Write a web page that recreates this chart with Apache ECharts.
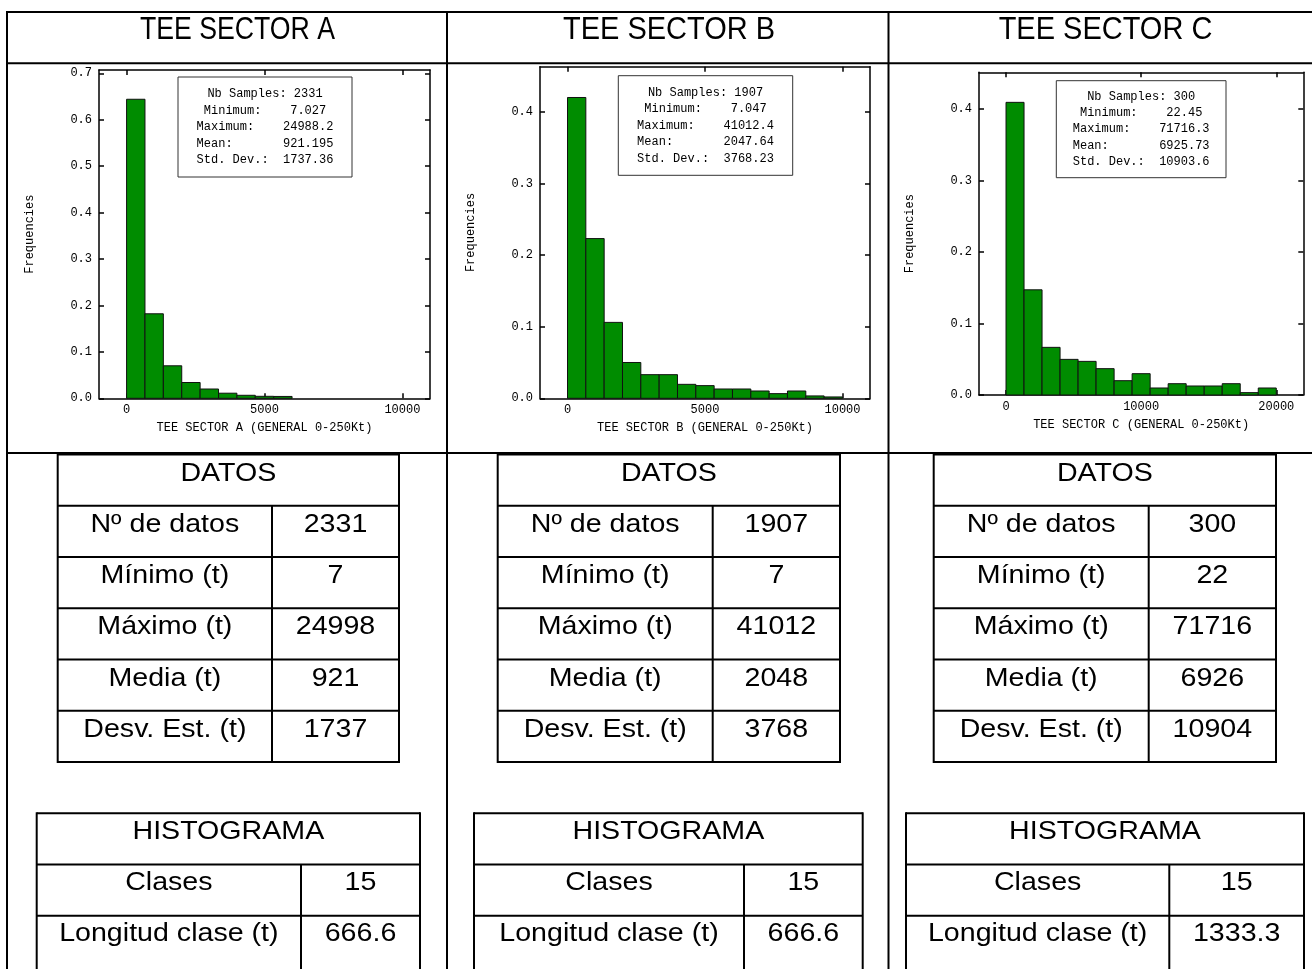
<!DOCTYPE html>
<html>
<head>
<meta charset="utf-8">
<script src="https://cdn.jsdelivr.net/npm/echarts@6/dist/echarts.min.js"></script>
<style>html,body{margin:0;padding:0;background:#fff}#c{width:1312px;height:969px}</style>
</head>
<body>
<div id="c"></div>
<script>
// ---------- DATA ----------
const headerTitles = ['TEE SECTOR A', 'TEE SECTOR B', 'TEE SECTOR C'];
const xAxisNames = ['TEE SECTOR A (GENERAL 0-250Kt)', 'TEE SECTOR B (GENERAL 0-250Kt)', 'TEE SECTOR C (GENERAL 0-250Kt)'];
const yAxisName = 'Frequencies';
const classWidths = [666.6, 666.6, 1333.3];
const freqA = [0.644, 0.182, 0.070, 0.034, 0.020, 0.011, 0.0065, 0.0043, 0.004, 0, 0, 0, 0, 0, 0];
const freqB = [0.420, 0.223, 0.106, 0.050, 0.033, 0.033, 0.0195, 0.0177, 0.013, 0.013, 0.0102, 0.0065, 0.0102, 0.0033, 0.0019];
const freqC = [0.409, 0.147, 0.0666, 0.0498, 0.047, 0.0368, 0.020, 0.0298, 0.0098, 0.0158, 0.0126, 0.0126, 0.0158, 0.0033, 0.0098];
const xTicksA = [0, 5000, 10000];
const xTicksB = [0, 5000, 10000];
const xTicksC = [0, 10000, 20000];
const yTicksA = [0, 0.1, 0.2, 0.3, 0.4, 0.5, 0.6, 0.7];
const yTicksB = [0, 0.1, 0.2, 0.3, 0.4];
const yTicksC = [0, 0.1, 0.2, 0.3, 0.4];
const statLabels = ['Nb Samples:', 'Minimum:', 'Maximum:', 'Mean:', 'Std. Dev.:'];
const statsA = ['2331', '7.027', '24988.2', '921.195', '1737.36'];
const statsB = ['1907', '7.047', '41012.4', '2047.64', '3768.23'];
const statsC = ['300', '22.45', '71716.3', '6925.73', '10903.6'];
const datosTitle = 'DATOS';
const datosLabels = ['Nº de datos', 'Mínimo (t)', 'Máximo (t)', 'Media (t)', 'Desv. Est. (t)'];
const datosA = ['2331', '7', '24998', '921', '1737'];
const datosB = ['1907', '7', '41012', '2048', '3768'];
const datosC = ['300', '22', '71716', '6926', '10904'];
const histTitle = 'HISTOGRAMA';
const histLabels = ['Clases', 'Longitud clase (t)'];
const histA = ['15', '666.6'];
const histB = ['15', '666.6'];
const histC = ['15', '1333.3'];

// ---------- LAYOUT ----------
const freqs = [freqA, freqB, freqC];
const xTicks = [xTicksA, xTicksB, xTicksC];
const yTicks = [yTicksA, yTicksB, yTicksC];
const stats = [statsA, statsB, statsC];
const datos = [datosA, datosB, datosC];
const hist = [histA, histB, histC];

const grids = [
  {left: 99, top: 70, width: 331, height: 328.3},
  {left: 540, top: 66.7, width: 330, height: 331.6},
  {left: 979, top: 72.3, width: 324.3, height: 322.7}
];
const xRanges = [[-1000, 11000], [-1000, 11000], [-2000, 22000]];
const yMaxes = [0.707, 0.463, 0.451];
const statBoxes = [
  {x: 178, y: 77, w: 174, h: 100},
  {x: 618.3, y: 75.7, w: 174.4, h: 99.6},
  {x: 1056.3, y: 80.7, w: 169.7, h: 97}
];
const statLineH = [16.5, 16.5, 16.3];
const headerX = [237.5, 669, 1105.5];
const headerScale = [0.86, 0.935, 0.935];
const datosCols = [[57.7, 272, 399], [497.7, 712.7, 840], [933.7, 1148.7, 1276]];
const histCols = [[36.7, 301, 420], [474, 744, 862.7], [906, 1169.3, 1304]];
const datosTop = 454.5, rowH = 51.25;
const histTop = 813.3;

const mono = "'Liberation Mono', 'DejaVu Sans Mono', monospace";
const sans = "'Liberation Sans', Arial, sans-serif";

const xAxes = [], yAxes = [], series = [], graphic = [];

grids.forEach((g, i) => {
  const axLine = {show: true, onZero: false, lineStyle: {color: '#000', width: 1.5}};
  const tick = {show: true, inside: true, length: 5, lineStyle: {color: '#000', width: 1.5}, customValues: xTicks[i]};
  xAxes.push({
    type: 'value', gridIndex: i, position: 'bottom', min: xRanges[i][0], max: xRanges[i][1],
    axisLine: axLine, axisTick: tick, splitLine: {show: false},
    axisLabel: {customValues: xTicks[i], margin: 6, color: '#000', fontFamily: mono, fontSize: 12,
      formatter: v => String(v)},
    name: xAxisNames[i], nameLocation: 'middle', nameGap: 24,
    nameTextStyle: {color: '#000', fontFamily: mono, fontSize: 12}
  });
  xAxes.push({
    type: 'value', gridIndex: i, position: 'top', min: xRanges[i][0], max: xRanges[i][1],
    axisLine: axLine, axisTick: tick, splitLine: {show: false}, axisLabel: {show: false}
  });
  const ytick = {show: true, inside: true, length: 5, lineStyle: {color: '#000', width: 1.5}, customValues: yTicks[i]};
  yAxes.push({
    type: 'value', gridIndex: i, position: 'left', min: 0, max: yMaxes[i],
    axisLine: axLine, axisTick: ytick, splitLine: {show: false},
    axisLabel: {customValues: yTicks[i], margin: 7, color: '#000', fontFamily: mono, fontSize: 12,
      formatter: v => v.toFixed(1)},
    name: yAxisName, nameLocation: 'middle', nameGap: 63, nameRotate: 90,
    nameTextStyle: {color: '#000', fontFamily: mono, fontSize: 12}
  });
  yAxes.push({
    type: 'value', gridIndex: i, position: 'right', min: 0, max: yMaxes[i],
    axisLine: axLine, axisTick: ytick, splitLine: {show: false}, axisLabel: {show: false}
  });
  const data = freqs[i].map((f, k) => [k * classWidths[i], (k + 1) * classWidths[i], f]);
  series.push({
    type: 'custom', xAxisIndex: 2 * i, yAxisIndex: 2 * i, data: data,
    encode: {x: [0, 1], y: 2},
    renderItem: (params, api) => {
      const v = api.value(2);
      if (!v) return null;
      const p0 = api.coord([api.value(0), 0]);
      const p1 = api.coord([api.value(1), v]);
      return {type: 'rect', shape: {x: p0[0], y: p1[1], width: p1[0] - p0[0], height: p0[1] - p1[1]},
        style: {fill: '#008c00', stroke: '#111', lineWidth: 1}};
    }
  });

  // stats box
  const b = statBoxes[i];
  graphic.push({type: 'rect', shape: {x: b.x, y: b.y, width: b.w, height: b.h},
    style: {fill: '#fff', stroke: '#333', lineWidth: 1}, z: 10});
  const cx = b.x + b.w / 2, cy = b.y + b.h / 2;
  statLabels.forEach((lab, k) => {
    graphic.push({type: 'text', z: 11, x: cx, y: cy + (k - 2) * statLineH[i],
      style: {text: lab.padEnd(12, ' ') + stats[i][k], x: 0, y: 0, font: '12px ' + mono, fill: '#000',
        align: 'center', verticalAlign: 'middle', textAlign: 'center', textVerticalAlign: 'middle'}});
  });
});

// outer table lines
const L = (x1, y1, x2, y2) => graphic.push({type: 'line', shape: {x1, y1, x2, y2}, style: {stroke: '#000', lineWidth: 2}, z: 5});
L(6, 12, 1320, 12); L(6, 63.3, 1320, 63.3); L(6, 453, 1320, 453);
L(7, 11, 7, 975); L(447, 11, 447, 975); L(888.5, 11, 888.5, 975);

const T = (txt, x, y, size, sx) => graphic.push({type: 'text', z: 6, x: x, y: y, scaleX: sx,
  style: {text: txt, x: 0, y: 0, font: size + 'px ' + sans, fill: '#000',
    align: 'center', verticalAlign: 'middle', textAlign: 'center', textVerticalAlign: 'middle'}});

headerTitles.forEach((t, i) => T(t, headerX[i], 30, 31, headerScale[i]));

const cellFont = 26, cellScale = 1.1;
for (let i = 0; i < 3; i++) {
  const c = datosCols[i];
  const bottom = datosTop + rowH * 6;
  L(c[0], datosTop, c[2], datosTop); L(c[0], bottom, c[2], bottom);
  L(c[0], datosTop - 1, c[0], bottom + 1); L(c[2], datosTop - 1, c[2], bottom + 1);
  for (let r = 1; r < 6; r++) L(c[0], datosTop + rowH * r, c[2], datosTop + rowH * r);
  L(c[1], datosTop + rowH, c[1], bottom);
  T(datosTitle, (c[0] + c[2]) / 2, datosTop + 19, cellFont, cellScale);
  datosLabels.forEach((lab, r) => {
    const y = datosTop + rowH * (r + 1) + 19;
    T(lab, (c[0] + c[1]) / 2, y, cellFont, cellScale);
    T(datos[i][r], (c[1] + c[2]) / 2, y, cellFont, cellScale);
  });

  const h = histCols[i];
  const hb = 980;
  L(h[0], histTop, h[2], histTop);
  L(h[0], histTop - 1, h[0], hb); L(h[2], histTop - 1, h[2], hb);
  for (let r = 1; r < 3; r++) L(h[0], histTop + rowH * r, h[2], histTop + rowH * r);
  L(h[1], histTop + rowH, h[1], hb);
  T(histTitle, (h[0] + h[2]) / 2, histTop + 18.5, cellFont, cellScale);
  histLabels.forEach((lab, r) => {
    const y = histTop + rowH * (r + 1) + 18.5;
    T(lab, (h[0] + h[1]) / 2, y, cellFont, cellScale);
    T(hist[i][r], (h[1] + h[2]) / 2, y, cellFont, cellScale);
  });
}

const chart = echarts.init(document.getElementById('c'), null, {renderer: 'canvas'});
chart.setOption({
  animation: false,
  backgroundColor: '#fff',
  grid: grids.map(g => Object.assign({containLabel: false}, g)),
  xAxis: xAxes,
  yAxis: yAxes,
  series: series,
  graphic: graphic
});
</script>
</body>
</html>
